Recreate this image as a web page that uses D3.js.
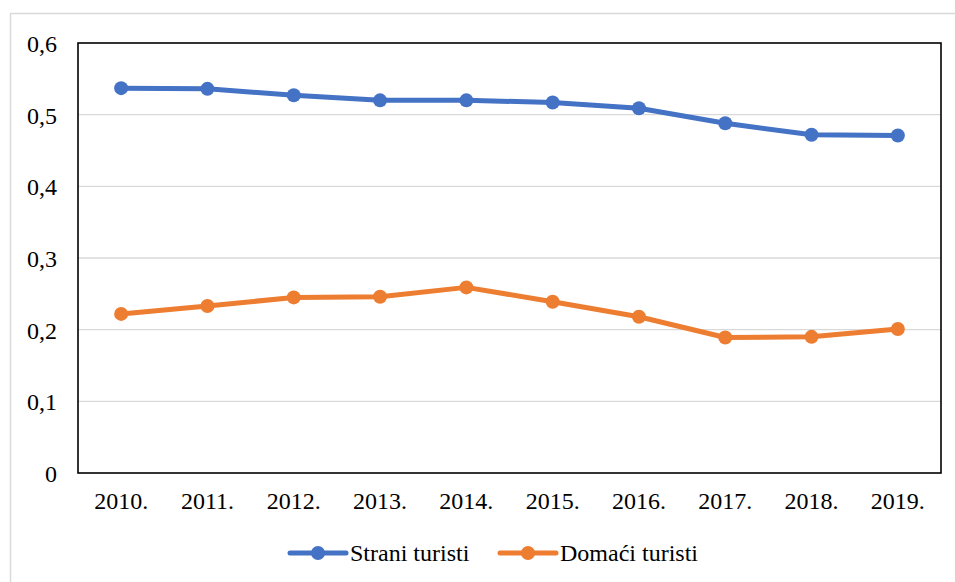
<!DOCTYPE html>
<html>
<head>
<meta charset="utf-8">
<script src="https://cdn.jsdelivr.net/npm/d3@7"></script>
<style>
  body { margin: 0; background: #fff; }
</style>
</head>
<body>
<svg id="chart" width="955" height="582"></svg>
<script>
// Chart data
const years = ['2010.', '2011.', '2012.', '2013.', '2014.', '2015.', '2016.', '2017.', '2018.', '2019.'];
const straniTuristi = [0.537, 0.536, 0.527, 0.520, 0.520, 0.517, 0.509, 0.488, 0.472, 0.471];
const domaciTuristi = [0.222, 0.233, 0.245, 0.246, 0.259, 0.239, 0.218, 0.189, 0.190, 0.201];
const yTicks = [0, 0.1, 0.2, 0.3, 0.4, 0.5, 0.6];

const series = [
    { name: 'Strani turisti', values: straniTuristi, color: '#4472C4' },
    { name: 'Domaći turisti', values: domaciTuristi, color: '#ED7D31' }
];

const FONT = "'Liberation Serif', 'Times New Roman', serif";

const svg = d3.select('#chart');
const plot = { left: 78, top: 43, right: 941, bottom: 473 };

// Outer chart frame
svg.append('rect')
    .attr('x', 10.5).attr('y', 13.5)
    .attr('width', 960).attr('height', 600)
    .attr('fill', 'none')
    .attr('stroke', '#d9d9d9')
    .attr('stroke-width', 1.5);

const x = d3.scaleBand().domain(years).range([plot.left, plot.right]);
const y = d3.scaleLinear().domain([0, 0.6]).range([plot.bottom, plot.top]);

// Gridlines
svg.selectAll('.grid')
    .data(yTicks.slice(1, -1))
    .enter().append('line')
    .attr('class', 'grid')
    .attr('x1', plot.left).attr('x2', plot.right)
    .attr('y1', d => y(d)).attr('y2', d => y(d))
    .attr('stroke', '#d9d9d9')
    .attr('stroke-width', 1.3);

// Plot border
svg.append('rect')
    .attr('x', plot.left).attr('y', plot.top)
    .attr('width', plot.right - plot.left)
    .attr('height', plot.bottom - plot.top)
    .attr('fill', 'none')
    .attr('stroke', '#000')
    .attr('stroke-width', 1.6);

// Y axis labels
const fmt = d => d === 0 ? '0' : d3.format('.1f')(d).replace('.', ',');
svg.selectAll('.ylab')
    .data(yTicks)
    .enter().append('text')
    .attr('class', 'ylab')
    .attr('x', 57)
    .attr('y', d => y(d) + 9)
    .attr('text-anchor', 'end')
    .attr('font-family', FONT)
    .attr('font-size', '24px')
    .attr('fill', '#000')
    .text(fmt);

// X axis labels
svg.selectAll('.xlab')
    .data(years)
    .enter().append('text')
    .attr('class', 'xlab')
    .attr('x', d => x(d) + x.bandwidth() / 2)
    .attr('y', 509)
    .attr('text-anchor', 'middle')
    .attr('font-family', FONT)
    .attr('font-size', '24px')
    .attr('fill', '#000')
    .text(d => d);

// Lines and markers
const line = d3.line()
    .x((d, i) => x(years[i]) + x.bandwidth() / 2)
    .y(d => y(d));

series.forEach(s => {
    svg.append('path')
        .datum(s.values)
        .attr('d', line)
        .attr('fill', 'none')
        .attr('stroke', s.color)
        .attr('stroke-width', 5)
        .attr('stroke-linejoin', 'round');

    svg.selectAll(null)
        .data(s.values)
        .enter().append('circle')
        .attr('cx', (d, i) => x(years[i]) + x.bandwidth() / 2)
        .attr('cy', d => y(d))
        .attr('r', 7)
        .attr('fill', s.color);
});

// Legend
const legendY = 553;
const legendX = [290, 500];
series.forEach((s, i) => {
    const lx = legendX[i];
    svg.append('line')
        .attr('x1', lx).attr('x2', lx + 56)
        .attr('y1', legendY).attr('y2', legendY)
        .attr('stroke', s.color)
        .attr('stroke-width', 5)
        .attr('stroke-linecap', 'round');
    svg.append('circle')
        .attr('cx', lx + 28).attr('cy', legendY)
        .attr('r', 7)
        .attr('fill', s.color);
    svg.append('text')
        .attr('x', lx + 60)
        .attr('y', legendY + 8)
        .attr('font-family', FONT)
        .attr('font-size', '24px')
        .attr('fill', '#000')
        .text(s.name);
});
</script>
</body>
</html>
